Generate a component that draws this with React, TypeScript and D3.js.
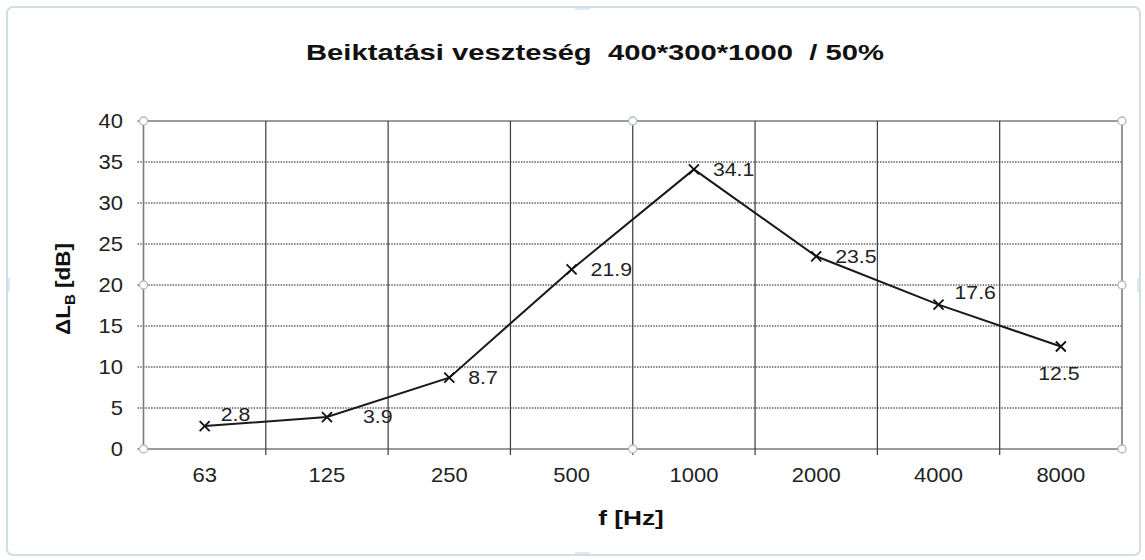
import React from "react";
import * as d3 from "d3";

const categories = ["63", "125", "250", "500", "1000", "2000", "4000", "8000"];
const values = [2.8, 3.9, 8.7, 21.9, 34.1, 23.5, 17.6, 12.5];
const labelPlacement = ["upRight", "farRight", "right", "right", "right", "right", "upRight", "below"];
const yTicks = [0, 5, 10, 15, 20, 25, 30, 35, 40];
const title = "Beiktatási veszteség  400*300*1000  / 50%";
const xTitle = "f [Hz]";

const W = 1145, H = 560;
const L = 143.5, R = 1122, T = 121, B = 449;

function Txt(props: { x: number; y: number; sx?: number; anchor?: string; size: number; bold?: boolean; children: React.ReactNode }) {
  const { x, y, sx = 1, anchor = "start", size, bold, children } = props;
  return (
    <text transform={`translate(${x},${y}) scale(${sx},1)`} dy="0.35em" textAnchor={anchor}
      fontSize={size} fontWeight={bold ? "bold" : "normal"} fill={bold ? "#111" : "#222"}>
      {children}
    </text>
  );
}

export default function App() {
  const x = d3.scaleBand<string>().domain(categories).range([L, R]).paddingInner(0).paddingOuter(0);
  const y = d3.scaleLinear().domain([0, 40]).range([B, T]);
  const pts: [number, number][] = values.map((v, i) => [x(categories[i])! + x.bandwidth() / 2, y(v)]);
  const line = d3.line().curve(d3.curveLinear)(pts) || "";
  const font = "'Liberation Sans', Arial, sans-serif";
  const bounds = categories.map((c) => x(c)!).concat([R]);
  const handles: [number, number][] = [
    [L, T], [(L + R) / 2, T], [R, T], [L, (T + B) / 2], [R, (T + B) / 2], [L, B], [(L + R) / 2, B], [R, B],
  ];
  const off = (p: string) => {
    switch (p) {
      case "upRight": return { dx: 16, dy: -12, anchor: "start" };
      case "farRight": return { dx: 36, dy: -1, anchor: "start" };
      case "below": return { dx: -2, dy: 27, anchor: "middle" };
      default: return { dx: 19, dy: 0, anchor: "start" };
    }
  };
  return (
    <svg width={W} height={H} style={{ position: "absolute", left: 0, top: 0, background: "#fff" }} fontFamily={font}>
      <rect x={7} y={7} width={1133} height={548} rx={6} fill="#fff" stroke="#cfdde6" strokeWidth={2} />
      <g stroke="#c4d2dc" strokeWidth={1}>
        <line x1={575} x2={590} y1={9} y2={9} />
        <line x1={575} x2={590} y1={553} y2={553} />
        <line x1={9} x2={9} y1={278} y2={292} />
        <line x1={1138} x2={1138} y1={278} y2={292} />
      </g>
      <text x={595} y={52} dy="0.35em" textAnchor="middle" fontSize={22} fontWeight="bold" fill="#111"
        textLength={578} lengthAdjust="spacingAndGlyphs" style={{ whiteSpace: "pre" }}>{title}</text>
      {/* horizontal gridlines */}
      {yTicks.map((t) => (
        <line key={"h" + t} x1={L - 6} x2={R} y1={y(t)} y2={y(t)}
          stroke={t === 0 || t === 40 ? "#7a7a7a" : "#8a8a8a"} strokeWidth={t === 0 || t === 40 ? 1.6 : 1.8}
          strokeDasharray={t === 0 || t === 40 ? undefined : "1.5 1.2"} />
      ))}
      {/* vertical gridlines */}
      {bounds.map((bx, i) => (
        <line key={"v" + i} x1={bx} x2={bx} y1={T} y2={B + (i === 0 || i === bounds.length - 1 ? 0 : 6)}
          stroke={i === 0 || i === bounds.length - 1 ? "#7a7a7a" : "#3a3a3a"} strokeWidth={i === 0 || i === bounds.length - 1 ? 1.6 : 1.2} />
      ))}
      {yTicks.map((t) => (
        <Txt key={"yt" + t} x={123} y={y(t)} sx={1.1} anchor="end" size={20}>{t}</Txt>
      ))}
      {categories.map((c) => (
        <Txt key={"xt" + c} x={x(c)! + x.bandwidth() / 2} y={475} sx={1.1} anchor="middle" size={20}>{c}</Txt>
      ))}
      <path d={line} fill="none" stroke="#1a1a1a" strokeWidth={2} />
      {pts.map(([px, py], i) => (
        <g key={"m" + i} stroke="#111" strokeWidth={1.8}>
          <line x1={px - 5} x2={px + 5} y1={py - 5} y2={py + 5} />
          <line x1={px - 5} x2={px + 5} y1={py + 5} y2={py - 5} />
        </g>
      ))}
      {pts.map(([px, py], i) => {
        const o = off(labelPlacement[i]);
        return (
          <Txt key={"l" + i} x={px + o.dx} y={py + o.dy} sx={1.12} anchor={o.anchor} size={19}>
            {values[i].toFixed(1)}
          </Txt>
        );
      })}
      {handles.map(([hx, hy], i) => (
        <circle key={"hd" + i} cx={hx} cy={hy} r={4} fill="#fff" stroke="#a9bccb" strokeWidth={1.3} />
      ))}
      <Txt x={631} y={518} sx={1.25} anchor="middle" size={21} bold>{xTitle}</Txt>
      <text transform={`translate(70, 289) rotate(-90)`} textAnchor="middle" fontSize={21} fontWeight="bold" fill="#111"
        textLength={92} lengthAdjust="spacingAndGlyphs">
        ΔL<tspan fontSize={14} dy={5}>B</tspan><tspan dy={-5}> [dB]</tspan>
      </text>
    </svg>
  );
}
